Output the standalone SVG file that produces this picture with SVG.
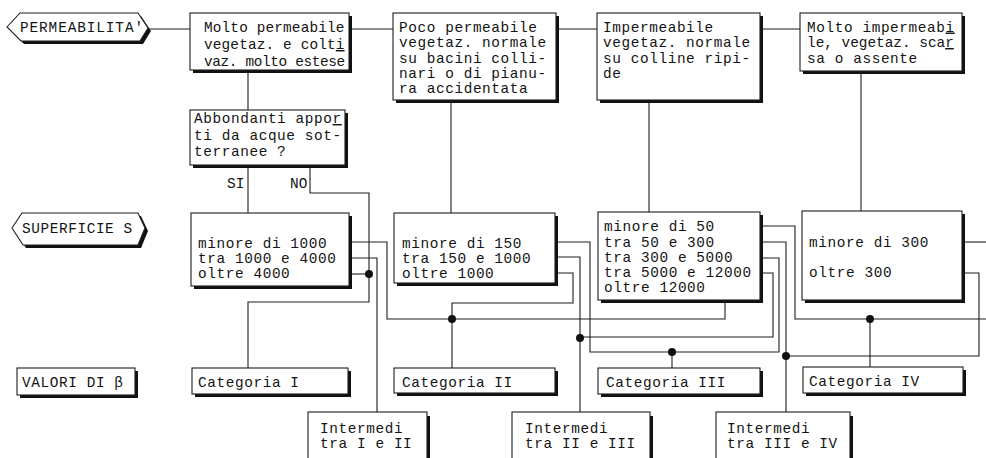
<svg xmlns="http://www.w3.org/2000/svg" width="986" height="458" viewBox="0 0 986 458">
<style>
  .bg{fill:#fff}
  .box{fill:#fff;stroke:#1e1e1e;stroke-width:1.1}
  .sh{fill:#111}
  text{font-family:"Liberation Mono","Courier New",monospace;font-size:14.4px;letter-spacing:0.6px;fill:#141414}
  .t1{letter-spacing:0.15px}
  .lbl{font-size:14.4px;letter-spacing:0}
  .u{text-decoration:underline}
  .tight{letter-spacing:-0.35px}
  .tight2{letter-spacing:0px}
  .wire{fill:none;stroke:#1e1e1e;stroke-width:1.1}
  .dot{fill:#111}
</style>
<rect class="bg" x="0" y="0" width="986" height="458"/>

<g id="connectors">
  <path class="wire" d="M148,29 H190"/>
  <path class="wire" d="M349,29 H393"/>
  <path class="wire" d="M556,29 H597"/>
  <path class="wire" d="M760,29 H800"/>
  <path class="wire" d="M248,70 V110"/>
  <path class="wire" d="M248,165 V213"/>
  <path class="wire" d="M310,165 V193 H369 V302 H248 V368"/>
  <path class="wire" d="M352,274 H369"/>
  <path class="wire" d="M352,242 H387 V319 H725 V300"/>
  <path class="wire" d="M558,273 H573 V303 H452 V368"/>
  <path class="wire" d="M352,258 H377 V412"/>
  <path class="wire" d="M558,242 H590 V352 H779 V258 H763"/>
  <path class="wire" d="M672,352 V368"/>
  <path class="wire" d="M558,257 H580 V412"/>
  <path class="wire" d="M763,273 H773 V337 H580"/>
  <path class="wire" d="M763,226 H795 V319 H986"/>
  <path class="wire" d="M870,319 V367"/>
  <path class="wire" d="M763,242 H786 V412"/>
  <path class="wire" d="M963,273 H979 V356 H786"/>
  <path class="wire" d="M963,242 H986"/>
  <path class="wire" d="M451,100 V213"/>
  <path class="wire" d="M649,100 V212"/>
  <path class="wire" d="M861,71 V211"/>
  <circle class="dot" cx="369" cy="274" r="4"/>
  <circle class="dot" cx="452" cy="319" r="4"/>
  <circle class="dot" cx="580" cy="338" r="4"/>
  <circle class="dot" cx="672" cy="352" r="4"/>
  <circle class="dot" cx="786" cy="356" r="4"/>
  <circle class="dot" cx="870" cy="319" r="4"/>
  <text class="lbl" x="227" y="188">SI</text>
  <text class="lbl" x="290" y="188">NO</text>
</g>

<g id="permeabilita">
  <polygon class="sh" points="10,30 23,16 141,16 151,31 143,44 24,44"/>
  <polygon class="box" points="7,27 20,13 138,13 148,28 140,41 21,41"/>
  <text x="20" y="32" style="letter-spacing:0.9px">PERMEABILITA'</text>
</g>

<g id="molto-permeabile">
  <rect class="sh" x="193" y="16" width="159" height="57"/>
  <rect class="box" x="190" y="13" width="159" height="57"/>
  <text class="t1" x="204" y="32">Molto permeabile<tspan x="204" y="49">vegetaz. e colt<tspan class="u">i</tspan></tspan><tspan x="204" y="66" class="tight">vaz. molto estese</tspan></text>
</g>

<g id="poco-permeabile">
  <rect class="sh" x="396" y="16" width="163" height="87"/>
  <rect class="box" x="393" y="13" width="163" height="87"/>
  <text x="399" y="32">Poco permeabile<tspan x="399" y="47">vegetaz. normale</tspan><tspan x="399" y="62.5">su bacini colli-</tspan><tspan x="399" y="78">nari o di pianu-</tspan><tspan x="399" y="93">ra accidentata</tspan></text>
</g>

<g id="impermeabile">
  <rect class="sh" x="600" y="16" width="163" height="87"/>
  <rect class="box" x="597" y="13" width="163" height="87"/>
  <text x="603" y="32">Impermeabile<tspan x="603" y="47">vegetaz. normale</tspan><tspan x="603" y="62.5">su colline ripi-</tspan><tspan x="603" y="78">de</tspan></text>
</g>

<g id="molto-impermeabile">
  <rect class="sh" x="803" y="16" width="162" height="58"/>
  <rect class="box" x="800" y="13" width="162" height="58"/>
  <text x="807" y="31.5">Molto impermeab<tspan class="u">i</tspan><tspan x="807" y="47" class="tight2">le, vegetaz. sca<tspan class="u">r</tspan></tspan><tspan x="807" y="62.5">sa o assente</tspan></text>
</g>

<g id="abbondanti">
  <rect class="sh" x="193" y="113" width="155" height="55"/>
  <rect class="box" x="190" y="110" width="155" height="55"/>
  <text x="194" y="123">Abbondanti appo<tspan class="u">r</tspan><tspan x="194" y="140">ti da acque sot-</tspan><tspan x="194" y="156">terranee ?</tspan></text>
</g>

<g id="superficie">
  <polygon class="sh" points="15,231 25,216 141,216 148,231 141,248 26,248"/>
  <polygon class="box" points="12,228 22,213 138,213 145,228 138,245 23,245"/>
  <text x="22" y="233">SUPERFICIE S</text>
</g>

<g id="sup-molto">
  <rect class="sh" x="194" y="216" width="158" height="73"/>
  <rect class="box" x="191" y="213" width="158" height="73"/>
  <text x="198" y="247.5">minore di 1000<tspan x="198" y="262.5">tra 1000 e 4000</tspan><tspan x="198" y="277.5">oltre 4000</tspan></text>
</g>

<g id="sup-poco">
  <rect class="sh" x="397" y="216" width="161" height="70"/>
  <rect class="box" x="394" y="213" width="161" height="70"/>
  <text x="402" y="247.5">minore di 150<tspan x="402" y="262.5">tra 150 e 1000</tspan><tspan x="402" y="277.5">oltre 1000</tspan></text>
</g>

<g id="sup-imp">
  <rect class="sh" x="601" y="215" width="162" height="88"/>
  <rect class="box" x="598" y="212" width="162" height="88"/>
  <text x="604" y="231">minore di 50<tspan x="604" y="246.5">tra 50 e 300</tspan><tspan x="604" y="262">tra 300 e 5000</tspan><tspan x="604" y="277">tra 5000 e 12000</tspan><tspan x="604" y="292">oltre 12000</tspan></text>
</g>

<g id="sup-molto-imp">
  <rect class="sh" x="805" y="214" width="160" height="89"/>
  <rect class="box" x="802" y="211" width="160" height="89"/>
  <text x="809" y="247">minore di 300<tspan x="809" y="277">oltre 300</tspan></text>
</g>

<g id="valori">
  <rect class="sh" x="20" y="371" width="118" height="27"/>
  <rect class="box" x="17" y="368" width="118" height="27"/>
  <text x="22" y="387">VALORI DI β</text>
</g>

<g id="cat1">
  <rect class="sh" x="195" y="371" width="156" height="26"/>
  <rect class="box" x="192" y="368" width="156" height="26"/>
  <text x="198" y="387">Categoria I</text>
</g>
<g id="cat2">
  <rect class="sh" x="397" y="371" width="161" height="25"/>
  <rect class="box" x="394" y="368" width="161" height="25"/>
  <text x="402" y="386.5">Categoria II</text>
</g>
<g id="cat3">
  <rect class="sh" x="601" y="371" width="162" height="26"/>
  <rect class="box" x="598" y="368" width="162" height="26"/>
  <text x="606" y="386.5">Categoria III</text>
</g>
<g id="cat4">
  <rect class="sh" x="806" y="370" width="160" height="26"/>
  <rect class="box" x="803" y="367" width="160" height="26"/>
  <text x="809" y="386">Categoria IV</text>
</g>

<g id="int12">
  <rect class="sh" x="311" y="416" width="119" height="60"/>
  <rect class="box" x="308" y="412" width="119" height="60"/>
  <text x="320" y="433">Intermedi<tspan x="320" y="448">tra I e II</tspan></text>
</g>
<g id="int23">
  <rect class="sh" x="515" y="416" width="138" height="60"/>
  <rect class="box" x="512" y="412" width="138" height="60"/>
  <text x="525" y="433">Intermedi<tspan x="525" y="448">tra II e III</tspan></text>
</g>
<g id="int34">
  <rect class="sh" x="719" y="416" width="134" height="60"/>
  <rect class="box" x="716" y="412" width="134" height="60"/>
  <text x="727" y="433">Intermedi<tspan x="727" y="448">tra III e IV</tspan></text>
</g>
</svg>
